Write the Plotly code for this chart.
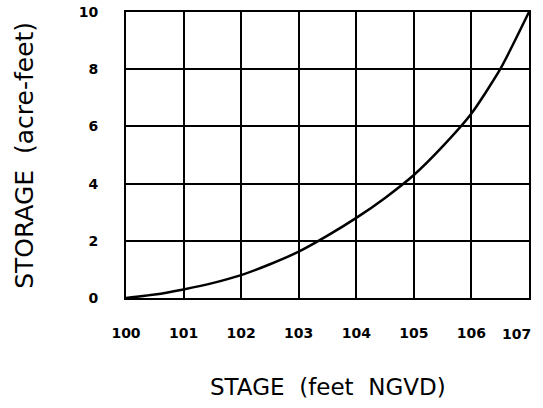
import plotly.graph_objects as go

# Stage-storage relationship
stage_ft = [100.0, 100.5, 101.0, 101.5, 102.0, 102.5, 103.0, 103.5,
            104.0, 104.5, 105.0, 105.5, 106.0, 106.5, 107.0]
storage_acft = [0.0, 0.12, 0.30, 0.52, 0.80, 1.18, 1.62, 2.18,
                2.80, 3.50, 4.30, 5.30, 6.45, 8.00, 10.0]

x_ticks = [100, 101, 102, 103, 104, 105, 106, 107]
y_ticks = [0, 2, 4, 6, 8, 10]

tick_font = dict(family="DejaVu Sans", size=14, color="black", weight="bold")

fig = go.Figure()
fig.add_trace(go.Scatter(
    x=stage_ft, y=storage_acft, mode="lines",
    line=dict(color="black", width=2.5, shape="spline", smoothing=0.6),
    hoverinfo="skip", showlegend=False,
))

axis_common = dict(
    showgrid=True, gridcolor="black", gridwidth=1.6,
    showline=True, linecolor="black", linewidth=2, mirror=True,
    zeroline=False, ticks="", automargin=False, tickfont=tick_font,
)

# the last stage label sits at the right frame edge, so it is set
# right-aligned against the frame instead of centred on its gridline
fig.update_xaxes(
    range=[x_ticks[0], x_ticks[-1]], tickvals=x_ticks[:-1],
    ticktext=[str(v) for v in x_ticks[:-1]],
    ticklabelstandoff=21, **axis_common,
)
fig.add_annotation(
    text=str(x_ticks[-1]), xref="x", yref="paper", x=x_ticks[-1], y=0,
    xanchor="right", yanchor="top", yshift=-26, xshift=4,
    showarrow=False, font=tick_font,
)
fig.update_yaxes(
    range=[y_ticks[0], y_ticks[-1]], tickvals=y_ticks,
    ticktext=[str(v) for v in y_ticks],
    ticklabelstandoff=23, **axis_common,
)

title_font = dict(family="DejaVu Sans", color="black")
fig.add_annotation(
    text="STAGE  (feet  NGVD)", xref="paper", yref="paper",
    x=0.5, y=-0.311, xanchor="center", yanchor="middle", showarrow=False,
    font=dict(size=23, **title_font),
)
fig.add_annotation(
    text="STORAGE  (acre-feet)", xref="paper", yref="paper",
    x=-0.2506, y=0.497, xanchor="center", yanchor="middle", showarrow=False,
    textangle=-90, font=dict(size=25, **title_font),
)

fig.update_layout(
    width=543, height=408,
    margin=dict(l=126, r=14, t=12, b=110),
    paper_bgcolor="white", plot_bgcolor="white",
)

fig.write_html("out.html")
